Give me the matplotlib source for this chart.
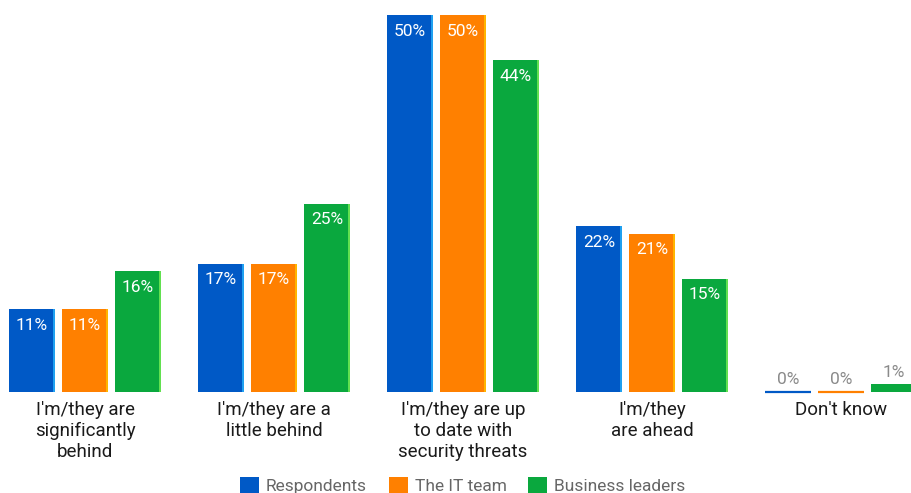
import matplotlib
matplotlib.use("Agg")
import matplotlib.pyplot as plt
from matplotlib.patches import Patch
import numpy as np

categories = ["I'm/they are\nsignificantly\nbehind", "I'm/they are a\nlittle behind",
              "I'm/they are up\nto date with\nsecurity threats", "I'm/they\nare ahead", "Don't know"]
series_names = ["Respondents", "The IT team", "Business leaders"]
respondents = [11, 17, 50, 22, 0]
it_team = [11, 17, 50, 21, 0]
business = [16, 25, 44, 15, 1]

colors = ["#0059C6", "#FF8000", "#0AA83E"]
edge_colors = ["#1FA0F0", "#FFB400", "#62E050"]

plt.rcParams['font.family'] = ['Roboto', 'DejaVu Sans']
W, H = 911, 493
fig = plt.figure(figsize=(W / 100, H / 100), dpi=100)
base_px = 392
top_px = 15
ax = fig.add_axes([0, (H - base_px) / H, 1, (base_px - top_px) / H])
ax.set_xlim(-85 / 189, (W - 85) / 189)
ax.set_ylim(0, 50)
ax.axis('off')

x = np.arange(len(categories))
bw = 46 / 189
step = 53 / 189
edge_w = 2 / 189
for i, (vals, c, ec) in enumerate(zip([respondents, it_team, business], colors, edge_colors)):
    xs = x + (i - 1) * step
    ax.bar(xs, vals, width=bw, color=c, linewidth=0, clip_on=True)
    ax.bar(xs + bw / 2 - edge_w / 2, vals, width=edge_w, color=ec, linewidth=0)
    for xi, v in zip(xs, vals):
        if v >= 3:
            ax.annotate(f"{v}%", (xi, v), xytext=(0, -16), textcoords='offset pixels',
                        ha='center', va='center', color='white', fontsize=12.5)
        else:
            ax.annotate(f"{v}%", (xi, v), xytext=(0, 12), textcoords='offset pixels',
                        ha='center', va='center', color='#8a8a8a', fontsize=12.5)
    for xi, v in zip(xs, vals):
        if v == 0:
            ax.plot([xi - bw / 2, xi + bw / 2], [0, 0], color=c, lw=1.6,
                    solid_capstyle='butt', clip_on=False)

for xi, lab in zip(x, categories):
    ax.annotate(lab, (xi, 0), xytext=(0, -9), textcoords='offset pixels',
                ha='center', va='top', fontsize=13.5, color='#1a1a1a', linespacing=1.2)

handles = [Patch(facecolor=c, edgecolor=ec, linewidth=0) for c, ec in zip(colors, edge_colors)]
leg = fig.legend(handles, series_names, loc='lower center', bbox_to_anchor=(0.508, -0.034), ncol=3,
                 frameon=False, fontsize=12.5, handlelength=1.1, handleheight=1.1,
                 handletextpad=0.4, columnspacing=1.25)
for t in leg.get_texts():
    t.set_color('#666666')

fig.savefig("out.png", dpi=100)
